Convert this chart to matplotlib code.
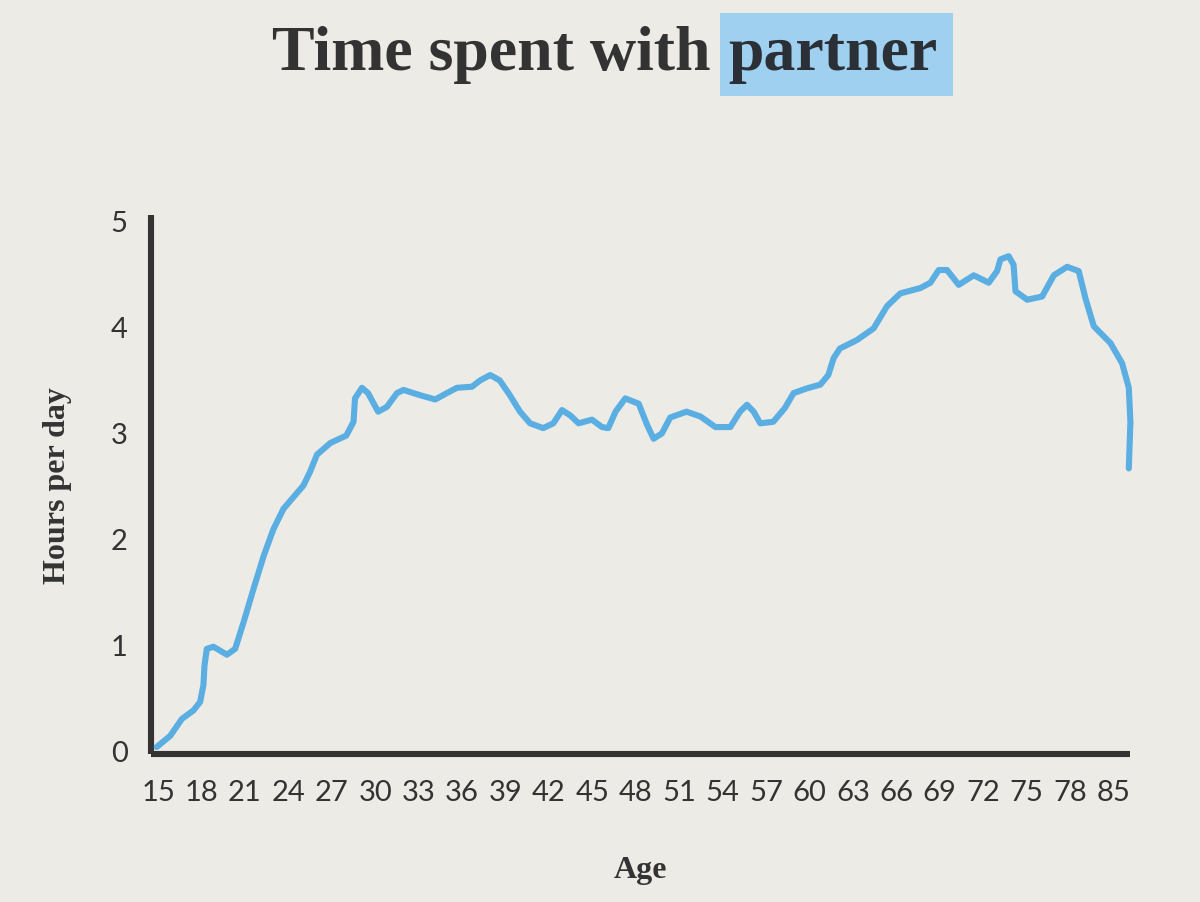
import matplotlib
matplotlib.use("Agg")
import matplotlib.pyplot as plt
from matplotlib.patches import Rectangle

# Age (in axis-slot units: the last tick slot 81 is labelled 85) and hours per day
ages = [14.9, 15.83, 16.64, 17.44, 17.9, 18.13, 18.2, 18.36, 18.82, 19.75, 20.32, 20.9,
        21.6, 22.3, 22.97, 23.66, 24.35, 25.04, 25.5, 25.97, 26.9, 28.0, 28.5, 28.6,
        29.08, 29.5, 30.2, 30.8, 31.5, 31.95, 33.1, 34.14, 34.95, 35.64, 36.68, 37.25,
        37.94, 38.6, 39.3, 40.0, 40.7, 41.6, 42.3, 42.9, 43.47, 44.05, 44.97, 45.66,
        46.1, 46.6, 47.27, 48.2, 48.78, 49.23, 49.8, 50.38, 51.5, 52.46, 53.5, 54.53,
        55.2, 55.68, 56.14, 56.6, 57.5, 58.3, 58.9, 59.83, 60.75, 61.3, 61.67, 62.1,
        63.28, 64.43, 65.36, 66.28, 67.66, 68.35, 68.93, 69.5, 70.31, 71.35, 72.38, 72.96,
        73.19, 73.76, 74.1, 74.23, 75.04, 76.07, 76.88, 77.8, 78.6, 79.07, 79.64, 80.8,
        81.6, 82.06, 82.17, 82.06]
hours = [0.035, 0.14, 0.30, 0.38, 0.46, 0.62, 0.80, 0.96, 0.98, 0.905, 0.96, 1.21,
         1.53, 1.84, 2.09, 2.28, 2.39, 2.50, 2.63, 2.79, 2.90, 2.97, 3.10, 3.32,
         3.42, 3.37, 3.195, 3.24, 3.37, 3.40, 3.35, 3.31, 3.37, 3.42, 3.43, 3.49,
         3.54, 3.49, 3.35, 3.195, 3.085, 3.04, 3.085, 3.21, 3.16, 3.085, 3.12, 3.05,
         3.04, 3.195, 3.32, 3.27, 3.07, 2.94, 2.99, 3.14, 3.195, 3.15, 3.05, 3.05,
         3.195, 3.26, 3.195, 3.085, 3.10, 3.23, 3.37, 3.415, 3.45, 3.54, 3.70, 3.79,
         3.87, 3.98, 4.19, 4.31, 4.36, 4.41, 4.53, 4.53, 4.39, 4.48, 4.41, 4.52,
         4.63, 4.66, 4.58, 4.33, 4.25, 4.28, 4.48, 4.56, 4.52, 4.26, 4.00, 3.84,
         3.65, 3.42, 3.10, 2.66]

x_tick_pos = list(range(15, 82, 3))
x_tick_labels = [str(v) for v in range(15, 79, 3)] + ["85"]
y_ticks = [0, 1, 2, 3, 4, 5]

bg = "#edebe6"
dark = "#333333"
blue = "#5aaee2"

fig = plt.figure(figsize=(12, 9.03), dpi=100, facecolor=bg)
ax = fig.add_axes([0.126, 0.164, 0.816, 0.597])
ax.set_facecolor(bg)

ax.plot(ages, hours, color=blue, lw=4.4, solid_joinstyle="round",
        solid_capstyle="round", zorder=3, clip_on=False)

ax.set_xlim(14.52, 82.17)
ax.set_ylim(-0.03, 5.05)
ax.set_xticks(x_tick_pos)
ax.set_xticklabels(x_tick_labels)
ax.set_yticks(y_ticks)

for s in ["top", "right"]:
    ax.spines[s].set_visible(False)
for s in ["left", "bottom"]:
    ax.spines[s].set_color(dark)
    ax.spines[s].set_linewidth(4.4)
    ax.spines[s].set_capstyle("butt")

ax.tick_params(axis="both", length=0, labelsize=21, labelcolor=dark)
ax.tick_params(axis="x", pad=18)
ax.tick_params(axis="y", pad=17)
for lab in ax.get_xticklabels() + ax.get_yticklabels():
    lab.set_fontfamily("Lato")

ax.set_xlabel("Age", fontfamily="Liberation Serif", fontweight="bold",
              fontsize=23, color=dark, labelpad=36)
ax.set_ylabel("Hours per day", fontfamily="Liberation Serif", fontweight="bold",
              fontsize=23, color=dark, labelpad=28)

# title with highlighted last word
fig.patches.append(Rectangle((0.600, 0.893), 0.194, 0.091, transform=fig.transFigure,
                             facecolor="#9fd0f0", edgecolor="none", zorder=0))
fig.text(0.592, 0.922, "Time spent with", ha="right", va="baseline",
         fontfamily="Liberation Serif", fontweight="bold", fontsize=46, color=dark)
fig.text(0.607, 0.922, "partner", ha="left", va="baseline",
         fontfamily="Liberation Serif", fontweight="bold", fontsize=46, color="#2a3036")

fig.savefig("out.png", dpi=100, facecolor=bg)
